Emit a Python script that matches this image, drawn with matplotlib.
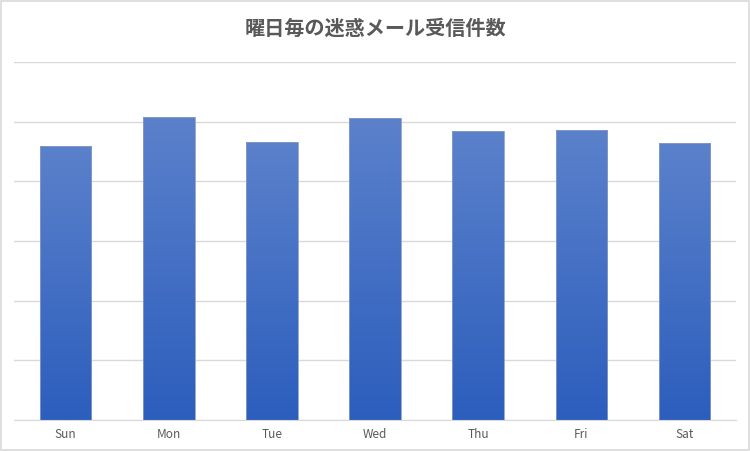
import matplotlib
matplotlib.use('Agg')
import matplotlib.pyplot as plt
import numpy as np
from matplotlib.colors import LinearSegmentedColormap

plt.rcParams['font.family'] = ['Noto Sans CJK JP', 'DejaVu Sans']

# data (gridlines every 50)
days = ['Sun', 'Mon', 'Tue', 'Wed', 'Thu', 'Fri', 'Sat']
counts = [230, 254, 233, 253, 242, 243, 232]
title = '曜日毎の迷惑メール受信件数'

fig = plt.figure(figsize=(7.5, 4.51), dpi=100)
fig.patch.set_facecolor('white')
# thin grey frame round the figure
fig.add_artist(plt.Rectangle((0.0015, 0.002), 0.997, 0.996, transform=fig.transFigure,
                             fill=False, edgecolor='#d9d9d9', linewidth=1.2))

ax = fig.add_axes([14 / 750, 31 / 451, 722 / 750, 358 / 451])

bars = ax.bar(days, counts, width=0.5, color='none', edgecolor='#8a9cc4',
              linewidth=0.6, zorder=3)

cmap = LinearSegmentedColormap.from_list('blu', ['#2c5ebd', '#5b81cb'])
grad = np.linspace(0, 1, 256).reshape(-1, 1)
for b in bars:
    x0, w, h = b.get_x(), b.get_width(), b.get_height()
    im = ax.imshow(grad, extent=(x0, x0 + w, 0, h), origin='lower', cmap=cmap,
                   aspect='auto', zorder=2)
    im.set_clip_path(b)

ax.set_xlim(-0.5, len(days) - 0.5)
ax.set_ylim(0, 300)
ax.set_yticks(np.arange(0, 301, 50))
ax.yaxis.grid(True, color='#d9d9d9', linewidth=1)
ax.set_axisbelow(True)
ax.tick_params(axis='y', left=False, labelleft=False)
ax.tick_params(axis='x', length=0, colors='#595959', labelsize=8.5, pad=6)
for s in ['top', 'right', 'left']:
    ax.spines[s].set_visible(False)
ax.spines['bottom'].set_color('#d9d9d9')

fig.text(0.5, 1 - 28 / 451, title, ha='center', va='center', fontsize=14.5,
         fontweight='bold', color='#595959')

fig.savefig('out.png', dpi=100)
